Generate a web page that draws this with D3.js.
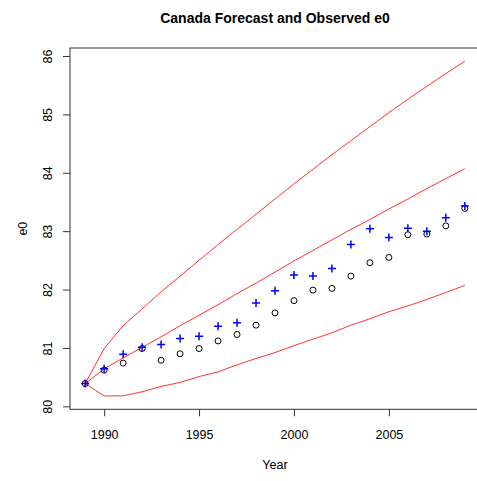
<!DOCTYPE html>
<html>
<head>
<meta charset="utf-8">
<script src="https://cdn.jsdelivr.net/npm/d3@7"></script>
<style>
  body { margin: 0; background: #fff; }
  text { font-family: "Liberation Sans", Arial, sans-serif; fill: #000; }
</style>
</head>
<body>
<script>
const width = 477;
const height = 481;

const years = d3.range(1989, 2010);
const xTicks = [1990, 1995, 2000, 2005];
const yTicks = [80, 81, 82, 83, 84, 85, 86];

// blue crosses
const forecast = [80.39, 80.645, 80.89, 81.01, 81.06, 81.16, 81.20, 81.37, 81.43, 81.77, 81.98,
  82.25, 82.23, 82.36, 82.77, 83.04, 82.89, 83.05, 83.00, 83.23, 83.43];
// black circles
const observed = [80.39, 80.62, 80.74, 80.99, 80.79, 80.90, 80.99, 81.12, 81.23, 81.39, 81.60,
  81.81, 81.99, 82.02, 82.23, 82.46, 82.55, 82.94, 82.95, 83.09, 83.39];
// red lines
const median = [80.39, 80.64, 80.83, 81.01, 81.19, 81.38, 81.56, 81.74, 81.93, 82.11, 82.30,
  82.49, 82.67, 82.85, 83.03, 83.20, 83.38, 83.55, 83.73, 83.90, 84.07];
const upper = [80.39, 80.99, 81.38, 81.67, 81.96, 82.23, 82.50, 82.77, 83.03, 83.29, 83.55,
  83.81, 84.06, 84.31, 84.55, 84.79, 85.03, 85.26, 85.48, 85.70, 85.91];
const lower = [80.39, 80.177, 80.18, 80.25, 80.34, 80.41, 80.51, 80.59, 80.71, 80.82, 80.92,
  81.04, 81.15, 81.26, 81.39, 81.50, 81.62, 81.72, 81.83, 81.95, 82.07];

const plot = { left: 70, right: 480, top: 48, bottom: 409.3 };

const x = d3.scaleLinear()
  .domain([1988.2, 2009.8])
  .range([plot.left, plot.right]);

const y = d3.scaleLinear()
  .domain([79.949, 86.137])
  .range([plot.bottom, plot.top]);

const svg = d3.select('body')
  .append('svg')
    .attr('width', width)
    .attr('height', height);

// box
svg.append('rect')
  .attr('x', plot.left)
  .attr('y', plot.top)
  .attr('width', plot.right - plot.left)
  .attr('height', plot.bottom - plot.top)
  .attr('fill', 'none')
  .attr('stroke', '#333')
  .attr('stroke-width', 1);

const xAxis = d3.axisBottom(x)
  .tickValues(xTicks)
  .tickFormat(d3.format('d'))
  .tickSizeInner(7)
  .tickSizeOuter(0)
  .tickPadding(6);

const yAxis = d3.axisLeft(y)
  .tickValues(yTicks)
  .tickFormat(d3.format('d'))
  .tickSizeInner(7)
  .tickSizeOuter(0);

const gx = svg.append('g')
  .attr('transform', `translate(0, ${plot.bottom})`)
  .call(xAxis);
gx.select('.domain').remove();
gx.selectAll('line').attr('stroke', '#333');
gx.selectAll('text')
  .attr('y', 30)
  .attr('dy', null)
  .style('font-size', '12.5px')
  .style('font-family', '"Liberation Sans", Arial, sans-serif')
  .attr('fill', '#000');

const gy = svg.append('g')
  .attr('transform', `translate(${plot.left}, 0)`)
  .call(yAxis);
gy.select('.domain').remove();
gy.selectAll('line').attr('stroke', '#333');
gy.selectAll('text')
  .attr('x', null)
  .attr('dy', null)
  .attr('text-anchor', 'middle')
  .attr('transform', 'translate(-18.5, 0) rotate(-90)')
  .style('font-size', '12.5px')
  .style('font-family', '"Liberation Sans", Arial, sans-serif')
  .attr('fill', '#000');

// red lines
const line = d3.line()
  .x((d, i) => x(years[i]))
  .y((d) => y(d));

svg.append('g')
  .selectAll('path')
  .data([upper, median, lower])
  .enter()
    .append('path')
    .attr('fill', 'none')
    .attr('stroke', '#ff3333')
    .attr('stroke-width', 1)
    .attr('d', (d) => line(d));

// observed circles
svg.append('g')
  .selectAll('circle')
  .data(observed)
  .enter()
    .append('circle')
    .attr('cx', (d, i) => x(years[i]))
    .attr('cy', (d) => y(d))
    .attr('r', 3)
    .attr('fill', 'none')
    .attr('stroke', '#000')
    .attr('stroke-width', 1);

// forecast crosses
svg.append('g')
  .selectAll('path')
  .data(forecast)
  .enter()
    .append('path')
    .attr('d', (d, i) => {
      const cx = x(years[i]);
      const cy = y(d);
      return `M${cx - 4},${cy}H${cx + 4}M${cx},${cy - 4}V${cy + 4}`;
    })
    .attr('stroke', '#0000ff')
    .attr('stroke-width', 1.5);

// titles
svg.append('text')
  .attr('x', (plot.left + plot.right) / 2)
  .attr('y', 23)
  .attr('text-anchor', 'middle')
  .style('font-size', '14px')
  .style('font-weight', 'bold')
  .text('Canada Forecast and Observed e0');

svg.append('text')
  .attr('x', (plot.left + plot.right) / 2)
  .attr('y', 469)
  .attr('text-anchor', 'middle')
  .style('font-size', '12.5px')
  .text('Year');

svg.append('text')
  .attr('transform', `translate(27, ${(plot.top + plot.bottom) / 2}) rotate(-90)`)
  .attr('text-anchor', 'middle')
  .style('font-size', '12.5px')
  .text('e0');
</script>
</body>
</html>
